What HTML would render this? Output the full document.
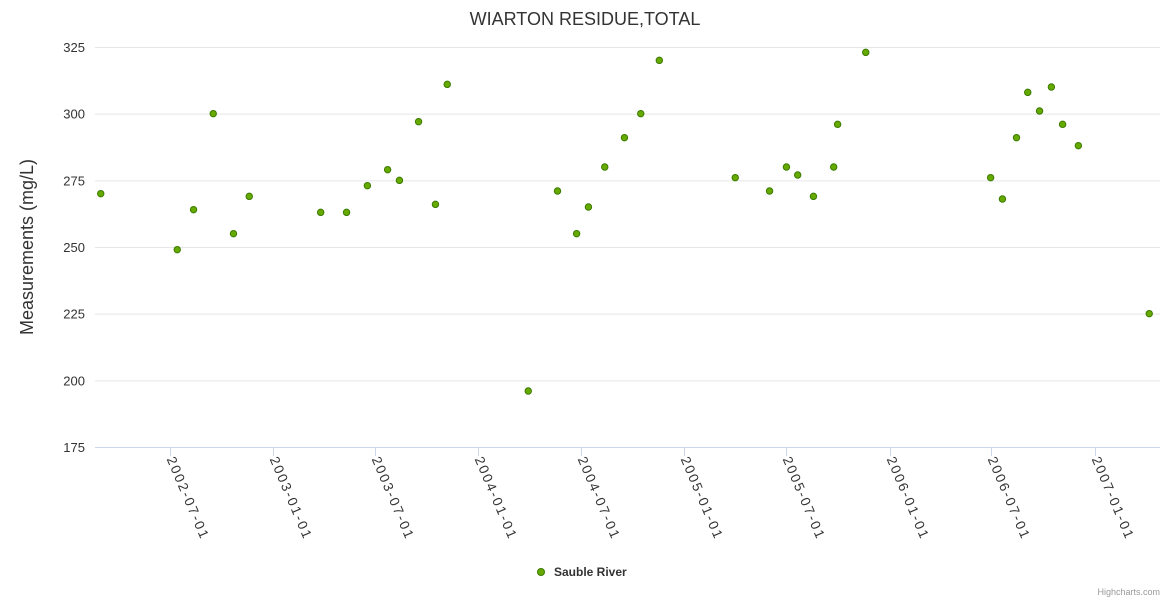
<!DOCTYPE html>
<html><head><meta charset="utf-8"><style>
body{margin:0;background:#fff}
svg{font-family:"Liberation Sans",sans-serif}
</style></head><body>
<svg id="c" width="1170" height="600">
<text x="585" y="25" text-anchor="middle" font-size="18" fill="#333">WIARTON RESIDUE,TOTAL</text>
<text transform="translate(33,247) rotate(-90)" text-anchor="middle" font-size="18" fill="#333">Measurements (mg/L)</text>
<g id="grid"></g><g id="xax"></g><g id="pts"></g>
<g>
<circle cx="541" cy="572" r="3.5" fill="#66aa00" stroke="#3a7a00" stroke-width="1"/>
<text x="554" y="576" font-size="12" font-weight="bold" fill="#333">Sauble River</text>
</g>
<text x="1160" y="595" text-anchor="end" font-size="9" fill="#999">Highcharts.com</text>
</svg>
<script>
const dates=["2002-02-27","2002-07-13","2002-08-11","2002-09-15","2002-10-21","2002-11-18","2003-03-25","2003-05-10","2003-06-16","2003-07-22","2003-08-12","2003-09-15","2003-10-15","2003-11-05","2004-03-28","2004-05-19","2004-06-22","2004-07-13","2004-08-11","2004-09-15","2004-10-14","2004-11-16","2005-03-31","2005-05-31","2005-06-30","2005-07-20","2005-08-17","2005-09-22","2005-09-29","2005-11-18","2006-06-28","2006-07-19","2006-08-13","2006-09-02","2006-09-23","2006-10-14","2006-11-03","2006-12-01","2007-04-06"];
const values=[270,249,264,300,255,269,263,263,273,279,275,297,266,311,196,271,255,265,280,291,300,320,276,271,280,277,269,280,296,323,276,268,291,308,301,310,296,288,225];
const yTicks=[175,200,225,250,275,300,325];
const xTicks=["2002-07-01","2003-01-01","2003-07-01","2004-01-01","2004-07-01","2005-01-01","2005-07-01","2006-01-01","2006-07-01","2007-01-01"];
const NS="http://www.w3.org/2000/svg";
const t0=Date.UTC(2002,6,1);
function xs(d){return 170.5+(Date.parse(d)-t0)/864e5*0.5625;}
function ys(v){return 447-(v-175)*400/150;}
const grid=document.getElementById('grid'),xax=document.getElementById('xax'),pts=document.getElementById('pts');
function mk(tag,a,p){const e=document.createElementNS(NS,tag);for(const k in a)e.setAttribute(k,a[k]);p.appendChild(e);return e;}
yTicks.forEach(v=>{
 const l=mk('line',{x1:95,x2:1160,y1:ys(v)+0.5,y2:ys(v)+0.5,stroke:v===175?'#ccd6eb':'#e6e6e6'},grid);
 
 
 const t=mk('text',{x:85,y:ys(v)+5,'text-anchor':'end','font-size':13,fill:'#333'},grid);
 t.textContent=v;
 
 
});
xTicks.forEach(d=>{
 const x=Math.round(xs(d)-1)+0.5;
 const l=mk('line',{x1:x,x2:x,y1:447,y2:456,stroke:'#ccd6eb'},xax);
 
 
 const t=mk('text',{transform:`translate(${x-4},${459}) rotate(67)`,'font-size':13.5,'letter-spacing':2,fill:'#333'},xax);
 t.textContent=d;
 
 
});
dates.forEach((d,i)=>{
 const c=mk('circle',{cx:xs(d),cy:ys(values[i]),r:3.2,fill:'#66aa00',stroke:'#3a7a00','stroke-width':1},pts);
 
 
});
</script>
</body></html>
